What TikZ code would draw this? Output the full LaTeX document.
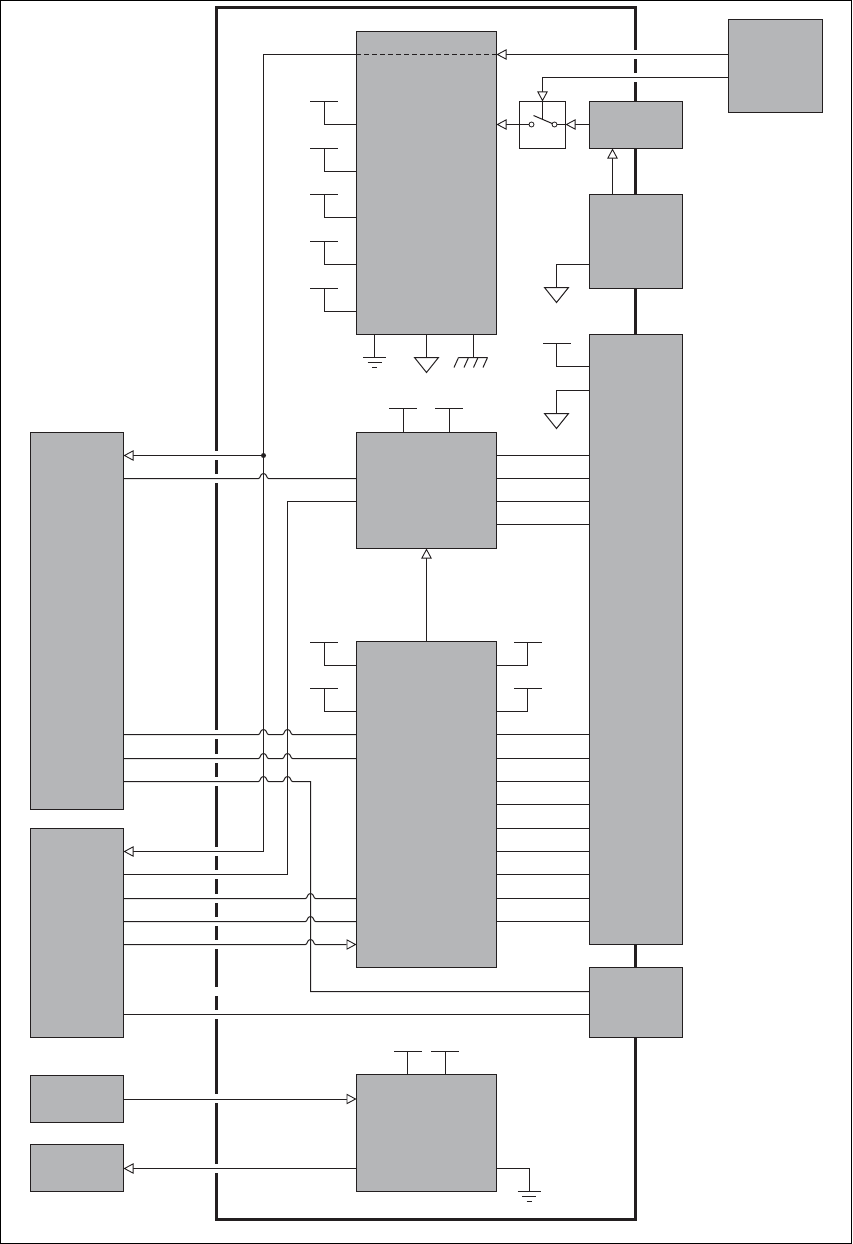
\documentclass[tikz,border=0pt]{standalone}
\usetikzlibrary{arrows.meta}
\definecolor{boxgrey}{HTML}{B5B6B8}
\definecolor{inkc}{HTML}{231F20}
\newcommand{\bx}[6][box]{\path node[#1,minimum width={#4-#2},minimum height={#5-#3}] (#6) at ({(#2+#4)/2},{(#3+#5)/2}) {};}
\tikzset{
  box/.style={draw=inkc,fill=boxgrey,line width=1pt,inner sep=0pt,outer sep=0pt,rectangle},
  whitebox/.style={box,fill=white},
  wire/.style={draw=inkc,line width=1pt},
  oa/.style={wire,-{Triangle[open,length=10pt,width=10.5pt,fill=white,line width=0.9pt]}},
  contact/.style={circle,draw=inkc,fill=white,line width=0.8pt,minimum size=5pt,inner sep=0pt,outer sep=0pt},
  dot/.style={circle,fill=inkc,minimum size=5pt,inner sep=0pt,outer sep=0pt},
  jp/.style 2 args={insert path={-- (#1-5,#2) .. controls (#1-3,#2) and (#1-3.5,#2-5) .. (#1,#2-5) .. controls (#1+3.5,#2-5) and (#1+3,#2) .. (#1+5,#2)}},
  tbar/.style 2 args={insert path={(#1-14,#2) -- (#1+14,#2)}},
  triground/.style 2 args={insert path={(#1-12,#2) -- (#1+12,#2) -- (#1,#2+15) -- cycle}},
  eground/.style 2 args={insert path={(#1-11.5,#2) -- (#1+11.5,#2) (#1-7,#2+5) -- (#1+7,#2+5) (#1-2.5,#2+9.5) -- (#1+2.5,#2+9.5)}},
}
\begin{document}
\begin{tikzpicture}[x=1pt,y=-1pt]
\useasboundingbox (0,0) rectangle (852,1244);
\draw[draw=black,line width=1.2pt] (0.5,0.5) rectangle (851.4,1243.4);
\begin{scope}[shift={(0.5,0.5)}]
% enclosure
\draw[inkc,line width=3pt] (216.2,7.2) rectangle (635.2,1219);
\foreach \y in {455,478,734,758,781,851,874,898,921,944,991,1014,1098,1168}
  \fill[white] (214,\y-4.5) rectangle (219.5,\y+4.5);
\foreach \y in {54,77}
  \fill[white] (633,\y-4.5) rectangle (638.5,\y+4.5);
% boxes
\bx{728}{19}{822}{112}{T}
\bx{589}{101}{682}{148}{S}
\bx{589}{194}{682}{288}{R}
\bx{589}{334}{682}{944}{BR}
\bx{589}{967}{682}{1037}{RF}
\bx[whitebox]{519}{101}{565}{148}{SW}
\bx{356}{31}{496}{334}{MA}
\bx{356}{432}{496}{548}{MB}
\bx{356}{641}{496}{967}{MC}
\bx{356}{1074}{496}{1191}{MD}
\bx{30}{432}{123}{809}{LA}
\bx{30}{828}{123}{1037}{LB}
\bx{30}{1075}{123}{1122}{LC}
\bx{30}{1144}{123}{1191}{LD}
% switch
\node[contact] (ca) at (531,124) {};
\node[contact] (cb) at (554,124) {};
\coordinate (armtop) at (533,115);
\coordinate (armmid) at (542,120);
\draw[wire] (armtop) -- (cb);
\draw[oa] (T.west |- 0,54) -- (MA.east |- 0,54);
\draw[wire,dash pattern=on 5pt off 3pt] (MA.east |- 0,54) -- (MA.west |- 0,54);
\node[dot] (J) at (263,455) {};
\draw[oa] (MA.west |- 0,54) -| (J.center) |- (LB.east |- 0,851);
\draw[oa] (J) -- (LA.east |- J);
\draw[oa] (T.west |- 0,77) -| (SW.north);
\draw[wire] (SW.north) -- (armmid);
\draw[oa] (S.west |- cb) -- (SW.east |- cb);
\draw[wire] (SW.east |- cb) -- (cb);
\draw[oa] (ca) -- (MA.east |- ca);
\draw[oa] (R.north -| 612,0) -- (S.south -| 612,0);
% ground of R
\coordinate (gr) at (556,287);
\draw[wire] (R.west |- 0,264) -| (gr);
\draw[wire,fill=white,triground={556}{287}];
% pins left of MA
\foreach \y in {124,171,217,264,311}{
  \coordinate (pa\y) at (323.5,\y-23);
  \draw[wire] (MA.west |- 0,\y) -| (pa\y);
  \draw[wire,tbar={323.5}{\y-23}];
}
% bottom of MA
\coordinate (ge) at (374,357);
\coordinate (gt) at (426,357);
\coordinate (gc) at (473,357);
\draw[wire] (MA.south -| ge) -- (ge);
\draw[wire,eground={374}{357}];
\draw[wire] (MA.south -| gt) -- (gt);
\draw[wire,fill=white,triground={426}{357}];
\draw[wire] (MA.south -| gc) -- (gc);
\draw[wire] (458,357) -- (487,357) (458,357) -- (453.5,367) (468,357) -- (463.5,367) (477.5,357) -- (473,367) (487,357) -- (482.5,367);
% pins of BR
\coordinate (pb) at (556,343);
\draw[wire] (BR.west |- 0,366) -| (pb);
\draw[wire,tbar={556.5}{343}];
\coordinate (gb) at (556,413);
\draw[wire] (BR.west |- 0,390) -| (gb);
\draw[wire,fill=white,triground={556}{413}];
% MB
\coordinate (pm1) at (403,408);
\coordinate (pm2) at (449,408);
\draw[wire] (MB.north -| pm1) -- (pm1);
\draw[wire,tbar={402.5}{408}];
\draw[wire] (MB.north -| pm2) -- (pm2);
\draw[wire,tbar={448.5}{408}];
\foreach \y in {455,478,501,524}
  \draw[wire] (MB.east |- 0,\y) -- (BR.west |- 0,\y);
\draw[wire] (LA.east |- 0,478) [jp={263}{478}] -- (MB.west |- 0,478);
\draw[wire] (MB.west |- 0,501) -| (287,874) -- (LB.east |- 0,874);
\draw[oa] (MC.north) -- (MB.south);
% MC pins
\foreach \y in {665,711}{
  \coordinate (pcl\y) at (323.5,\y-23.5);
  \coordinate (pcr\y) at (527,\y-23.5);
  \draw[wire] (MC.west |- 0,\y) -| (pcl\y);
  \draw[wire,tbar={323.5}{\y-23.5}];
  \draw[wire] (MC.east |- 0,\y) -| (pcr\y);
  \draw[wire,tbar={527.5}{\y-23.5}];
}
\foreach \y in {734,758,781,804,828,851,874,898,921}
  \draw[wire] (MC.east |- 0,\y) -- (BR.west |- 0,\y);
\draw[wire] (LA.east |- 0,734) [jp={263}{734}] [jp={287}{734}] -- (MC.west |- 0,734);
\draw[wire] (LA.east |- 0,758) [jp={263}{758}] [jp={287}{758}] -- (MC.west |- 0,758);
\draw[wire] (LA.east |- 0,781) [jp={263}{781}] [jp={287}{781}] -- (310,781) -- (310,991) -- (RF.west |- 0,991);
\draw[wire] (LB.east |- 0,898) [jp={310}{898}] -- (MC.west |- 0,898);
\draw[wire] (LB.east |- 0,921) [jp={310}{921}] -- (MC.west |- 0,921);
\draw[oa] (LB.east |- 0,944) [jp={310}{944}] -- (MC.west |- 0,944);
\draw[wire] (LB.east |- 0,1014) -- (RF.west |- 0,1014);
% MD
\draw[oa] (LC.east) -- (MD.west |- LC.east);
\draw[oa] (MD.west |- 0,1168) -- (LD.east |- 0,1168);
\coordinate (pd1) at (407,1051);
\coordinate (pd2) at (445,1051);
\draw[wire] (MD.north -| pd1) -- (pd1);
\draw[wire,tbar={407.5}{1051}];
\draw[wire] (MD.north -| pd2) -- (pd2);
\draw[wire,tbar={444.5}{1051}];
\coordinate (gd) at (528.5,1191);
\draw[wire] (MD.east |- 0,1168) -| (gd);
\draw[wire,eground={528.5}{1191}];
\end{scope}
\end{tikzpicture}
\end{document}
